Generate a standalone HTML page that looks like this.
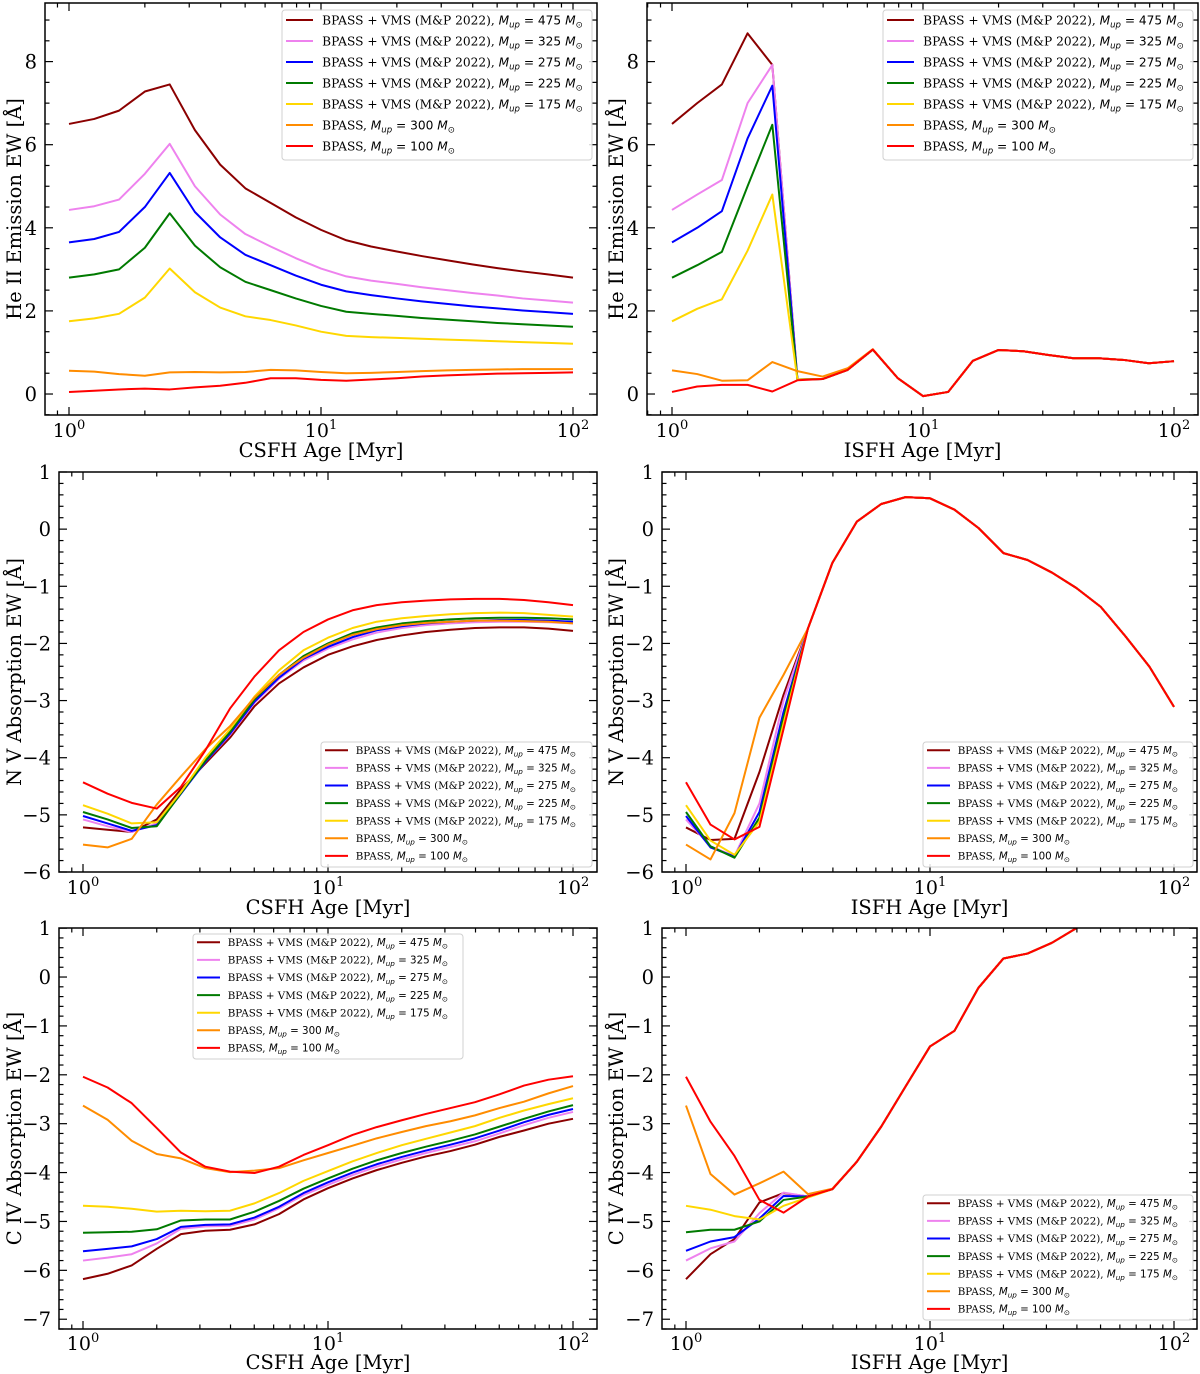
<!DOCTYPE html>
<html><head><meta charset="utf-8">
<style>
html,body{margin:0;padding:0;background:#fff;}
svg{display:block;font-family:"DejaVu Serif","Liberation Serif",serif;}
</style></head>
<body>
<svg id="fig" width="1200" height="1374" viewBox="0 0 1200 1374" xmlns="http://www.w3.org/2000/svg"></svg>
<script>
// ---- data ----
const ages = [1,1.26,1.58,2,2.51,3.16,3.98,5.01,6.31,7.94,10,12.6,15.8,20,25.1,31.6,39.8,50.1,63.1,79.4,100];
const seriesNames = ["BPASS + VMS (M&P 2022), ","BPASS + VMS (M&P 2022), ","BPASS + VMS (M&P 2022), ","BPASS + VMS (M&P 2022), ","BPASS + VMS (M&P 2022), ","BPASS, ","BPASS, "];
const seriesMasses = ["475","325","275","225","175","300","100"];
const seriesColors = ["#8b0000","#ee82ee","#0000ff","#007a00","#ffd700","#ff8c00","#ff0000"];

// He II CSFH
const heCsfh = [
 [6.5,6.62,6.82,7.28,7.45,6.35,5.52,4.95,4.6,4.25,3.95,3.7,3.55,3.43,3.32,3.22,3.12,3.03,2.95,2.88,2.8],
 [4.43,4.52,4.68,5.3,6.02,5.0,4.32,3.85,3.55,3.27,3.02,2.83,2.73,2.65,2.57,2.5,2.43,2.37,2.3,2.25,2.2],
 [3.65,3.73,3.9,4.5,5.32,4.38,3.77,3.35,3.1,2.85,2.63,2.47,2.38,2.3,2.23,2.17,2.11,2.06,2.01,1.97,1.93],
 [2.8,2.88,3.0,3.52,4.35,3.57,3.05,2.7,2.5,2.3,2.12,1.98,1.93,1.88,1.83,1.79,1.75,1.71,1.68,1.65,1.62],
 [1.75,1.82,1.93,2.32,3.02,2.45,2.08,1.87,1.78,1.65,1.5,1.4,1.37,1.35,1.33,1.31,1.29,1.27,1.25,1.23,1.21],
 [0.56,0.54,0.48,0.44,0.52,0.53,0.52,0.53,0.58,0.57,0.53,0.5,0.51,0.53,0.55,0.57,0.58,0.59,0.6,0.6,0.6],
 [0.05,0.08,0.11,0.13,0.11,0.16,0.2,0.27,0.38,0.38,0.34,0.32,0.35,0.38,0.42,0.45,0.47,0.49,0.5,0.51,0.52]
];
// He II ISFH
const heIsfh = [
 [6.5,7.0,7.45,8.68,7.92,0.35,0.36,0.58,1.07,0.38,-0.05,0.05,0.8,1.06,1.03,0.94,0.86,0.86,0.82,0.74,0.79],
 [4.43,4.8,5.15,7.0,7.92,0.35,0.36,0.58,1.07,0.38,-0.05,0.05,0.8,1.06,1.03,0.94,0.86,0.86,0.82,0.74,0.79],
 [3.65,4.0,4.4,6.15,7.42,0.35,0.36,0.58,1.07,0.38,-0.05,0.05,0.8,1.06,1.03,0.94,0.86,0.86,0.82,0.74,0.79],
 [2.8,3.1,3.42,5.0,6.48,0.35,0.36,0.58,1.07,0.38,-0.05,0.05,0.8,1.06,1.03,0.94,0.86,0.86,0.82,0.74,0.79],
 [1.75,2.05,2.28,3.45,4.8,0.35,0.36,0.58,1.07,0.38,-0.05,0.05,0.8,1.06,1.03,0.94,0.86,0.86,0.82,0.74,0.79],
 [0.57,0.48,0.32,0.33,0.77,0.55,0.42,0.62,1.08,0.38,-0.05,0.05,0.8,1.06,1.03,0.94,0.86,0.86,0.82,0.74,0.79],
 [0.05,0.18,0.22,0.22,0.06,0.33,0.36,0.58,1.07,0.38,-0.05,0.05,0.8,1.06,1.03,0.94,0.86,0.86,0.82,0.74,0.79]
];
// N V CSFH
const nvCsfh = [
 [-5.22,-5.26,-5.3,-5.08,-4.55,-4.1,-3.65,-3.1,-2.7,-2.42,-2.2,-2.05,-1.94,-1.86,-1.8,-1.76,-1.73,-1.72,-1.72,-1.74,-1.78],
 [-5.08,-5.2,-5.3,-5.15,-4.62,-4.07,-3.6,-3.04,-2.62,-2.3,-2.09,-1.93,-1.81,-1.73,-1.68,-1.65,-1.63,-1.62,-1.62,-1.63,-1.65],
 [-5.02,-5.15,-5.28,-5.18,-4.63,-4.07,-3.58,-3.02,-2.6,-2.27,-2.06,-1.89,-1.77,-1.7,-1.65,-1.62,-1.6,-1.59,-1.59,-1.6,-1.62],
 [-4.95,-5.08,-5.23,-5.2,-4.62,-4.05,-3.55,-2.98,-2.55,-2.22,-2.0,-1.82,-1.72,-1.65,-1.61,-1.58,-1.56,-1.55,-1.55,-1.56,-1.58],
 [-4.83,-4.98,-5.15,-5.13,-4.6,-4.0,-3.5,-2.93,-2.47,-2.12,-1.9,-1.73,-1.62,-1.56,-1.52,-1.49,-1.47,-1.46,-1.47,-1.5,-1.53],
 [-5.52,-5.57,-5.42,-4.82,-4.33,-3.85,-3.45,-2.95,-2.55,-2.25,-2.02,-1.85,-1.75,-1.68,-1.64,-1.62,-1.6,-1.6,-1.61,-1.62,-1.65],
 [-4.43,-4.63,-4.79,-4.89,-4.51,-3.87,-3.14,-2.58,-2.12,-1.8,-1.58,-1.42,-1.33,-1.28,-1.25,-1.23,-1.22,-1.22,-1.24,-1.28,-1.33]
];
// N V ISFH
const nvIsfh = [
 [-5.22,-5.44,-5.42,-4.25,-2.9,-1.74,-0.59,0.13,0.44,0.56,0.54,0.34,0.02,-0.42,-0.54,-0.76,-1.03,-1.36,-1.87,-2.41,-3.11],
 [-5.08,-5.55,-5.72,-4.8,-3.0,-1.74,-0.59,0.13,0.44,0.56,0.54,0.34,0.02,-0.42,-0.54,-0.76,-1.03,-1.36,-1.87,-2.41,-3.11],
 [-5.02,-5.57,-5.73,-4.95,-3.2,-1.74,-0.59,0.13,0.44,0.56,0.54,0.34,0.02,-0.42,-0.54,-0.76,-1.03,-1.36,-1.87,-2.41,-3.11],
 [-4.95,-5.55,-5.75,-5.05,-3.3,-1.74,-0.59,0.13,0.44,0.56,0.54,0.34,0.02,-0.42,-0.54,-0.76,-1.03,-1.36,-1.87,-2.41,-3.11],
 [-4.83,-5.45,-5.7,-5.12,-3.4,-1.74,-0.59,0.13,0.44,0.56,0.54,0.34,0.02,-0.42,-0.54,-0.76,-1.03,-1.36,-1.87,-2.41,-3.11],
 [-5.52,-5.78,-4.97,-3.3,-2.55,-1.74,-0.59,0.13,0.44,0.56,0.54,0.34,0.02,-0.42,-0.54,-0.76,-1.03,-1.36,-1.87,-2.41,-3.11],
 [-4.43,-5.17,-5.43,-5.21,-3.5,-1.74,-0.59,0.13,0.44,0.56,0.54,0.34,0.02,-0.42,-0.54,-0.76,-1.03,-1.36,-1.87,-2.41,-3.11]
];
// C IV CSFH
const civCsfh = [
 [-6.18,-6.07,-5.9,-5.56,-5.26,-5.19,-5.17,-5.06,-4.85,-4.55,-4.32,-4.12,-3.95,-3.8,-3.67,-3.56,-3.43,-3.27,-3.14,-3.0,-2.9],
 [-5.8,-5.74,-5.67,-5.45,-5.15,-5.1,-5.09,-4.96,-4.73,-4.46,-4.25,-4.05,-3.88,-3.73,-3.6,-3.48,-3.36,-3.2,-3.03,-2.88,-2.76],
 [-5.61,-5.56,-5.51,-5.36,-5.11,-5.07,-5.06,-4.92,-4.7,-4.42,-4.2,-4.0,-3.83,-3.68,-3.55,-3.43,-3.3,-3.14,-2.97,-2.82,-2.7],
 [-5.23,-5.22,-5.21,-5.16,-4.98,-4.96,-4.96,-4.8,-4.58,-4.33,-4.12,-3.92,-3.75,-3.6,-3.47,-3.35,-3.22,-3.06,-2.9,-2.75,-2.62],
 [-4.68,-4.7,-4.74,-4.8,-4.78,-4.79,-4.78,-4.63,-4.42,-4.17,-3.97,-3.77,-3.6,-3.44,-3.31,-3.18,-3.05,-2.88,-2.73,-2.6,-2.48],
 [-2.63,-2.92,-3.35,-3.62,-3.71,-3.91,-3.99,-3.96,-3.91,-3.75,-3.6,-3.45,-3.3,-3.17,-3.05,-2.95,-2.83,-2.68,-2.55,-2.38,-2.23],
 [-2.04,-2.26,-2.58,-3.09,-3.59,-3.88,-3.98,-4.01,-3.88,-3.64,-3.44,-3.23,-3.07,-2.93,-2.8,-2.68,-2.56,-2.4,-2.22,-2.1,-2.03]
];
// C IV ISFH
const civIsfh = [
 [-6.18,-5.67,-5.36,-4.61,-4.42,-4.49,-4.34,-3.78,-3.06,-2.24,-1.42,-1.1,-0.22,0.38,0.48,0.7,1.0,1.35,1.7,2.0,2.3],
 [-5.8,-5.55,-5.41,-4.83,-4.41,-4.49,-4.34,-3.78,-3.06,-2.24,-1.42,-1.1,-0.22,0.38,0.48,0.7,1.0,1.35,1.7,2.0,2.3],
 [-5.6,-5.41,-5.32,-4.94,-4.48,-4.49,-4.34,-3.78,-3.06,-2.24,-1.42,-1.1,-0.22,0.38,0.48,0.7,1.0,1.35,1.7,2.0,2.3],
 [-5.22,-5.17,-5.17,-5.0,-4.56,-4.49,-4.34,-3.78,-3.06,-2.24,-1.42,-1.1,-0.22,0.38,0.48,0.7,1.0,1.35,1.7,2.0,2.3],
 [-4.68,-4.76,-4.89,-4.96,-4.68,-4.51,-4.34,-3.78,-3.06,-2.24,-1.42,-1.1,-0.22,0.38,0.48,0.7,1.0,1.35,1.7,2.0,2.3],
 [-2.63,-4.03,-4.45,-4.22,-3.98,-4.44,-4.33,-3.78,-3.06,-2.24,-1.42,-1.1,-0.22,0.38,0.48,0.7,1.0,1.35,1.7,2.0,2.3],
 [-2.04,-2.96,-3.66,-4.56,-4.82,-4.49,-4.34,-3.78,-3.06,-2.24,-1.42,-1.1,-0.22,0.38,0.48,0.7,1.0,1.35,1.7,2.0,2.3]
];
const heTicks = [0,2,4,6,8];
const absTicksN = [1,0,-1,-2,-3,-4,-5,-6];
const absTicksC = [1,0,-1,-2,-3,-4,-5,-6,-7];
const xTickExps = [0,1,2];

// ---- drawing ----
const NS = "http://www.w3.org/2000/svg";
const fig = document.getElementById("fig");
function mk(tag, attrs, parent){
  const e = document.createElementNS(NS, tag);
  for (const k in attrs) e.setAttribute(k, attrs[k]);
  (parent||fig).appendChild(e);
  return e;
}
function fmt(v){ return v < 0 ? "\u2212" + Math.abs(v) : String(v); }

const panels = [
 {id:"he-csfh", data:heCsfh, L:45,R:597,T:3,B:415, x0:69,dec:252, ymin:-0.505,ymax:9.41, ticks:heTicks, minor:0.5,
  ylab:"He II Emission EW [\u00c5]", xlab:"CSFH Age [Myr]", xlabY:457, xtY:437,
  leg:{x:282,y:10,w:310,h:150,row:21,fs:12.2,line:27}},
 {id:"he-isfh", data:heIsfh, L:647,R:1198,T:3,B:415, x0:672,dec:251, ymin:-0.505,ymax:9.41, ticks:heTicks, minor:0.5,
  ylab:"He II Emission EW [\u00c5]", xlab:"ISFH Age [Myr]", xlabY:457, xtY:437,
  leg:{x:883,y:10,w:310,h:150,row:21,fs:12.2,line:27}},
 {id:"nv-csfh", data:nvCsfh, L:59,R:597,T:472,B:872, x0:83,dec:245, ymin:-6,ymax:1, ticks:absTicksN, minor:0.2,
  ylab:"N V Absorption EW [\u00c5]", xlab:"CSFH Age [Myr]", xlabY:914, xtY:894,
  leg:{x:321,y:742,w:271,h:125,row:17.6,fs:10.3,line:23}},
 {id:"nv-isfh", data:nvIsfh, L:662,R:1197,T:472,B:872, x0:686,dec:244, ymin:-6,ymax:1, ticks:absTicksN, minor:0.2,
  ylab:"N V Absorption EW [\u00c5]", xlab:"ISFH Age [Myr]", xlabY:914, xtY:894,
  leg:{x:923,y:742,w:270,h:125,row:17.6,fs:10.3,line:23}},
 {id:"civ-csfh", data:civCsfh, L:59,R:597,T:928,B:1329, x0:83,dec:245, ymin:-7.2,ymax:1.003, ticks:absTicksC, minor:0.2,
  ylab:"C IV Absorption EW [\u00c5]", xlab:"CSFH Age [Myr]", xlabY:1369, xtY:1350,
  leg:{x:193,y:934,w:270,h:125,row:17.6,fs:10.3,line:23}},
 {id:"civ-isfh", data:civIsfh, L:662,R:1197,T:928,B:1329, x0:686,dec:244, ymin:-7.2,ymax:1.003, ticks:absTicksC, minor:0.2,
  ylab:"C IV Absorption EW [\u00c5]", xlab:"ISFH Age [Myr]", xlabY:1369, xtY:1350,
  leg:{x:923,y:1195,w:270,h:125,row:17.6,fs:10.3,line:23}}
];

panels.forEach(p => {
  const g = mk("g", {});
  
  
  const xs = v => p.x0 + Math.log10(v) * p.dec;
  const ys = v => p.B - (v - p.ymin) / (p.ymax - p.ymin) * (p.B - p.T);
  const clipId = "clip-" + p.id;
  const cp = mk("clipPath", {id:clipId}, g);
  mk("rect", {x:p.L, y:p.T, width:p.R-p.L, height:p.B-p.T}, cp);

  // series
  const sg = mk("g", {"clip-path":"url(#"+clipId+")"}, g);
  p.data.forEach((vals, si) => {
    const d = vals.map((v,i) => (i?"L":"M") + xs(ages[i]).toFixed(2) + "," + ys(v).toFixed(2)).join("");
    const path = mk("path", {d:d, fill:"none", stroke:seriesColors[si], "stroke-width":2, "stroke-linejoin":"round"}, sg);
    
    
  });

  // ticks
  const tg = mk("g", {stroke:"#000", "stroke-width":1.2}, g);
  for (let e = -1; e <= 2; e++) {
    for (let m = 1; m <= 9; m++) {
      const v = m * Math.pow(10, e);
      const x = xs(v);
      if (x < p.L + 0.5 || x > p.R - 0.5) continue;
      const len = m === 1 ? 8 : 4.5;
      mk("line", {x1:x, y1:p.B, x2:x, y2:p.B-len}, tg);
      mk("line", {x1:x, y1:p.T, x2:x, y2:p.T+len}, tg);
    }
  }
  xTickExps.forEach(e => {
    const t = mk("text", {x:xs(Math.pow(10,e)), y:p.xtY, "text-anchor":"middle", "font-size":19, fill:"#000"}, g);
    
    
    t.appendChild(document.createTextNode("10"));
    const s = mk("tspan", {dy:-8, "font-size":13}, t);
    s.textContent = String(e);
  });
  const start = Math.ceil(p.ymin / p.minor) * p.minor;
  for (let v = start; v <= p.ymax + 1e-9; v += p.minor) {
    const y = ys(v);
    const isMaj = p.ticks.some(t => Math.abs(t - v) < 1e-6);
    const len = isMaj ? 8 : 4.5;
    mk("line", {x1:p.L, y1:y, x2:p.L+len, y2:y}, tg);
    mk("line", {x1:p.R, y1:y, x2:p.R-len, y2:y}, tg);
  }
  p.ticks.forEach(v => {
    const t = mk("text", {x:p.L-8, y:ys(v)+7, "text-anchor":"end", "font-size":19.5, fill:"#000"}, g);
    
    
    t.textContent = fmt(v);
  });
  const fr = mk("rect", {x:p.L, y:p.T, width:p.R-p.L, height:p.B-p.T, fill:"none", stroke:"#000", "stroke-width":1.5}, g);
  
  
  const xl = mk("text", {x:(p.L+p.R)/2, y:p.xlabY, "text-anchor":"middle", "font-size":19.5, fill:"#000"}, g);
  
  
  xl.textContent = p.xlab;
  const cy = (p.T+p.B)/2;
  const yl = mk("text", {x:0, y:0, transform:"translate("+(p.L < 300 ? 21 : 623)+","+cy+") rotate(-90)", "text-anchor":"middle", "font-size":19.5, fill:"#000"}, g);
  
  
  yl.textContent = p.ylab;

  // legend
  const L = p.leg;
  const lg = mk("g", {}, g);
  
  
  mk("rect", {x:L.x, y:L.y, width:L.w, height:L.h, rx:3, fill:"#fff", "fill-opacity":0.85, stroke:"#d0d0d0", "stroke-width":1}, lg);
  seriesNames.forEach((nm, i) => {
    const ry = L.y + L.row * 0.5 - 0.5 + i * L.row;
    const eg = mk("g", {}, lg);
    
    
    mk("line", {x1:L.x+4, y1:ry, x2:L.x+4+L.line, y2:ry, stroke:seriesColors[i], "stroke-width":2}, eg);
    const t = mk("text", {x:L.x+4+L.line+(L.fs*0.75), y:ry + L.fs*0.36, "font-size":L.fs, fill:"#000"}, eg);
    t.appendChild(document.createTextNode(nm));
    const m1 = mk("tspan", {"font-style":"italic", "font-family":"DejaVu Sans, sans-serif"}, t); m1.textContent = "M";
    const s1 = mk("tspan", {"font-style":"italic", "font-family":"DejaVu Sans, sans-serif", "font-size":L.fs*0.7, dy:L.fs*0.25}, t); s1.textContent = "up";
    const eq = mk("tspan", {"font-family":"DejaVu Sans, sans-serif", dy:-L.fs*0.25}, t); eq.textContent = " = " + seriesMasses[i] + " ";
    const m2 = mk("tspan", {"font-style":"italic", "font-family":"DejaVu Sans, sans-serif"}, t); m2.textContent = "M";
    const s2 = mk("tspan", {"font-family":"DejaVu Sans, sans-serif", "font-size":L.fs*0.7, dy:L.fs*0.25}, t); s2.textContent = "\u2299";
  });
});
</script>
</body></html>
